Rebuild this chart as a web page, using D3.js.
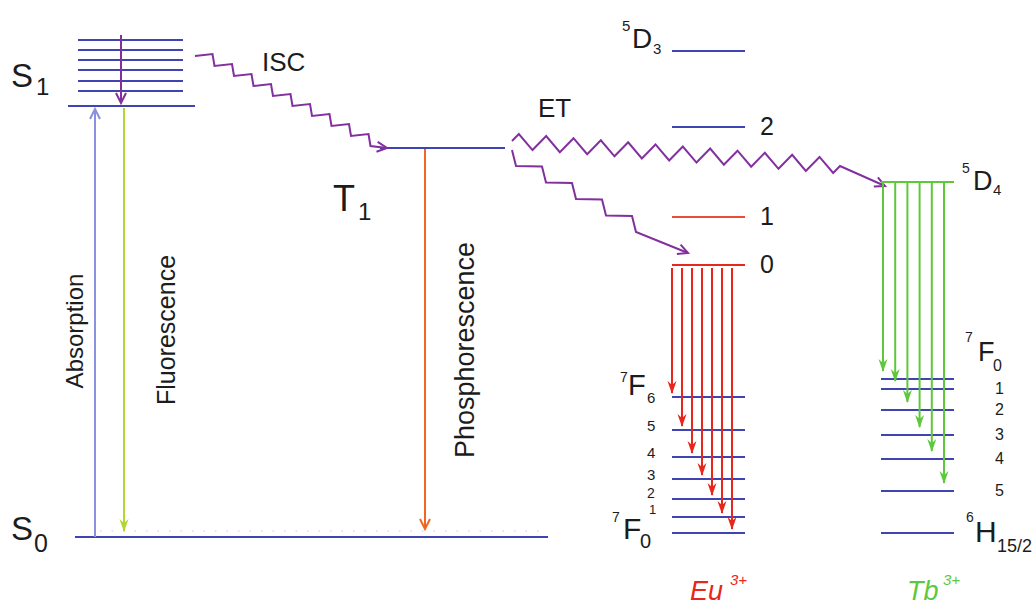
<!DOCTYPE html>
<html><head><meta charset="utf-8">
<script src="https://cdn.jsdelivr.net/npm/d3@7"></script>
<style>
html,body{margin:0;background:#fff}
svg{display:block;font-family:"Liberation Sans",Arial,Helvetica,sans-serif}
</style>
</head><body>
<svg id="chart" width="1033" height="607"></svg>
<script>
// Energy levels, arbitrary units (S0 = 0)
const groundState = 0;
const singletLevels = [43.1, 44.6, 45.6, 46.7, 47.7, 48.7, 49.7]; // S1 + vibrational sublevels
const tripletLevel = 38.9;                                       // T1
const euExcitedJ = [3, 2, 1, 0];                                  // Eu 5D_J
const euExcitedE = [48.6, 41.0, 32.0, 27.2];
const euGroundJ = [6, 5, 4, 3, 2, 1, 0];                          // Eu 7F_J
const euGroundE = [14.0, 10.7, 8.0, 5.8, 3.8, 2.0, 0.4];
const tbExcitedE = 35.5;                                          // Tb 5D4
const tbGroundJ = [0, 1, 2, 3, 4, 5];                             // Tb 7F_J
const tbGroundE = [15.8, 14.8, 12.7, 10.2, 7.8, 4.6];
const tbLowestE = 0.4;                                            // 6H15/2

const C = {
  level: "#4043b2", purple: "#82309e", red: "#e8261c", red1: "#ec4b3c",
  orange: "#f26522", green: "#5ec83c", yellow: "#b2d632", lavender: "#8c90e0", text: "#1c1c1c"
};

const svg = d3.select("#chart");
const y = d3.scaleLinear().domain([0, 50]).range([537, 37]);
const defs = svg.append("defs");

function marker(id, color, kind) {
  const m = defs.append("marker").attr("id", id)
    .attr("markerUnits", "userSpaceOnUse").attr("viewBox", "-16 -8 18 16")
    .attr("refX", 0).attr("refY", 0).attr("markerWidth", 18).attr("markerHeight", 16)
    .attr("orient", "auto");
  if (kind === "open") {
    m.append("path").attr("d", "M-10,-5 L0,0 L-10,5").attr("fill", "none")
      .attr("stroke", color).attr("stroke-width", 2);
  } else {
    m.append("path").attr("d", "M1,0 L-12,-4.5 L-8,0 L-12,4.5 Z").attr("fill", color);
  }
}
marker("m-purple", C.purple, "open");
marker("m-lav", C.lavender, "open");
marker("m-orange", C.orange, "open");
marker("m-yellow", C.yellow, "filled");
marker("m-red", C.red, "filled");
marker("m-green", C.green, "filled");

function hline(x1, x2, yy, color, w = 2) {
  return svg.append("line").attr("x1", x1).attr("x2", x2).attr("y1", yy).attr("y2", yy)
    .attr("stroke", color).attr("stroke-width", w);
}
function vArrow(x, y1, y2, color, mk, w = 2) {
  return svg.append("line").attr("x1", x).attr("x2", x).attr("y1", y1).attr("y2", y2)
    .attr("stroke", color).attr("stroke-width", w).attr("marker-end", `url(#${mk})`);
}
function txt(x, yb, s, size, opts = {}) {
  return svg.append("text").attr("x", x).attr("y", yb).attr("font-size", size)
    .attr("fill", opts.fill || C.text).attr("font-style", opts.italic ? "italic" : null)
    .attr("text-anchor", opts.anchor || "start").text(s);
}
function vtxt(x, cy, s, size) {
  return svg.append("text").attr("transform", `translate(${x},${cy}) rotate(-90)`)
    .attr("font-size", size).attr("fill", C.text).attr("text-anchor", "middle").text(s);
}
const line = d3.line();

// ---------- faint dotted guide above S0 ----------
svg.append("line").attr("x1", 100).attr("x2", 548).attr("y1", y(groundState) - 6).attr("y2", y(groundState) - 6)
  .attr("stroke", "#c9c6dc").attr("stroke-width", 1).attr("stroke-dasharray", "1.5 10");

// ---------- S0 / S1 / T1 ----------
hline(75, 548, y(groundState), C.level);
singletLevels.forEach((E, i) => {
  if (i === 0) hline(68, 195, y(E), C.level);
  else hline(78, 183, y(E), C.level);
});
hline(380, 505, y(tripletLevel), C.level);

// vibrational relaxation inside S1
vArrow(121, y(d3.max(singletLevels)) - 5, y(singletLevels[0]) - 3, C.purple, "m-purple");
// absorption, fluorescence, phosphorescence
vArrow(95, y(groundState), y(singletLevels[0]) + 3, C.lavender, "m-lav");
vArrow(124, y(singletLevels[0]) + 2, y(groundState) - 6, C.yellow, "m-yellow");
vArrow(425, y(tripletLevel) + 1, y(groundState) - 8, C.orange, "m-orange");

txt(11, 87, "S", 33); txt(36, 95, "1", 24);
txt(11, 540, "S", 33); txt(34, 552, "0", 25);
txt(333, 211, "T", 36); txt(358, 220, "1", 24);
vtxt(83, 331, "Absorption", 24);
vtxt(175, 330, "Fluorescence", 25);
vtxt(474, 350, "Phosphorescence", 27);

// ---------- nonradiative / energy-transfer paths ----------
// staircase: repeated (run, drop) segments
function staircase(x0, y0, n, run, drop, dropFirst) {
  const pts = [[x0, y0]];
  let x = x0, yy = y0;
  for (let i = 0; i < n; i++) {
    if (dropFirst) { x += drop[0]; yy += drop[1]; pts.push([x, yy]); }
    if (!dropFirst || i < n - 1) { x += run[0]; yy += run[1]; pts.push([x, yy]); }
    if (!dropFirst) { x += drop[0]; yy += drop[1]; pts.push([x, yy]); }
  }
  return pts;
}
// triangle wave along a straight base line
function zigzag(x0, y0, x1, y1, periods, amp) {
  const pts = [[x0, y0]];
  const n = periods * 4;
  for (let i = 1; i < n; i += 2) {
    const t = i / n;
    const off = (i % 4 === 1) ? -amp : amp;
    pts.push([x0 + (x1 - x0) * t, y0 + (y1 - y0) * t + off]);
  }
  pts.push([x1, y1]);
  return pts;
}
function wavy(pts, tip) {
  svg.append("path").attr("d", line(pts.concat([tip]))).attr("fill", "none")
    .attr("stroke", C.purple).attr("stroke-width", 2).attr("stroke-linejoin", "miter")
    .attr("marker-end", "url(#m-purple)");
}
// ISC: S1 -> T1
wavy(staircase(195, 56, 9, [17.5, -2], [2, 12], false), [387, y(tripletLevel)]);
// ET: T1 -> Eu 5D0
wavy(staircase(512, 150, 5, [26, 0.5], [4, 16], true), [688, y(euExcitedE[3]) - 12]);
// ET: T1 -> Tb 5D4
wavy(zigzag(512, 141, 840, 166, 12, 7.5), [885, y(tbExcitedE) + 4]);
txt(262, 71, "ISC", 26);
txt(538, 117, "ET", 26);

// ---------- Eu3+ ----------
const euX = [672, 745];
euExcitedJ.forEach((J, i) => {
  const yy = y(euExcitedE[i]);
  hline(euX[0], euX[1], yy, J <= 1 ? C.red1 : C.level);
  if (J === 3) {
    txt(622, yy - 20, "5", 15); txt(632, yy - 3, "D", 28); txt(653, yy + 3, "3", 15);
  } else {
    txt(760, yy + 8, String(J), 25);
  }
});
hline(euX[0], euX[1], y(euExcitedE[3]), C.red);
euGroundJ.forEach((J, i) => {
  const yy = y(euGroundE[i]);
  hline(euX[0], euX[1], yy, C.level);
});
const euArrowX = d3.scaleLinear().domain([0, euGroundJ.length - 1]).range([672, 732]);
euGroundJ.forEach((J, i) => {
  vArrow(euArrowX(i), y(euExcitedE[3]) + 3, y(euGroundE[i]) - 4, C.red, "m-red");
});
euGroundJ.forEach((J, i) => {
  const yy = y(euGroundE[i]);
  if (J === 6) { txt(620, yy - 15, "7", 14); txt(628, yy - 2, "F", 29); txt(647, yy + 6, "6", 15); }
  else if (J === 0) { txt(612, yy - 11, "7", 14); txt(623, yy + 6, "F", 30); txt(640, yy + 15, "0", 20); }
  else if (J === 1) { txt(649, yy - 3, "1", 13); }
  else { txt(647, J === 2 ? yy - 1 : yy + 1, String(J), J === 2 ? 14 : 15); }
});
txt(690, 600, "Eu", 27, { fill: C.red, italic: true });
txt(730, 585, "3+", 15, { fill: C.red, italic: true });

// ---------- Tb3+ ----------
const tbX = [881, 954];
hline(tbX[0], tbX[1], y(tbExcitedE), C.green);
tbGroundJ.forEach((J, i) => hline(tbX[0], tbX[1], y(tbGroundE[i]), C.level));
hline(tbX[0], tbX[1], y(tbLowestE), C.level);
const tbArrowX = d3.scaleLinear().domain([0, tbGroundJ.length - 1]).range([883, 944]);
tbGroundJ.forEach((J, i) => {
  vArrow(tbArrowX(i), y(tbExcitedE) + 1, y(tbGroundE[i]) - 8, C.green, "m-green");
});
{
  const yy = y(tbExcitedE);
  txt(962, yy - 9, "5", 14); txt(973, yy + 8, "D", 27); txt(993, yy + 13, "4", 15);
}
tbGroundJ.forEach((J, i) => {
  const yy = y(tbGroundE[i]);
  if (J === 0) { txt(965, yy - 37, "7", 14); txt(978, yy - 18, "F", 27); txt(993, yy - 8, "0", 16); }
  else txt(995, yy + 5, String(J), 16);
});
{
  const yy = y(tbLowestE);
  txt(966, yy - 11, "6", 14); txt(975, yy + 9, "H", 30); txt(997, yy + 19, "15/2", 18);
}
txt(907, 600, "Tb", 27, { fill: C.green, italic: true });
txt(943, 585, "3+", 15, { fill: C.green, italic: true });
</script>
</body></html>
